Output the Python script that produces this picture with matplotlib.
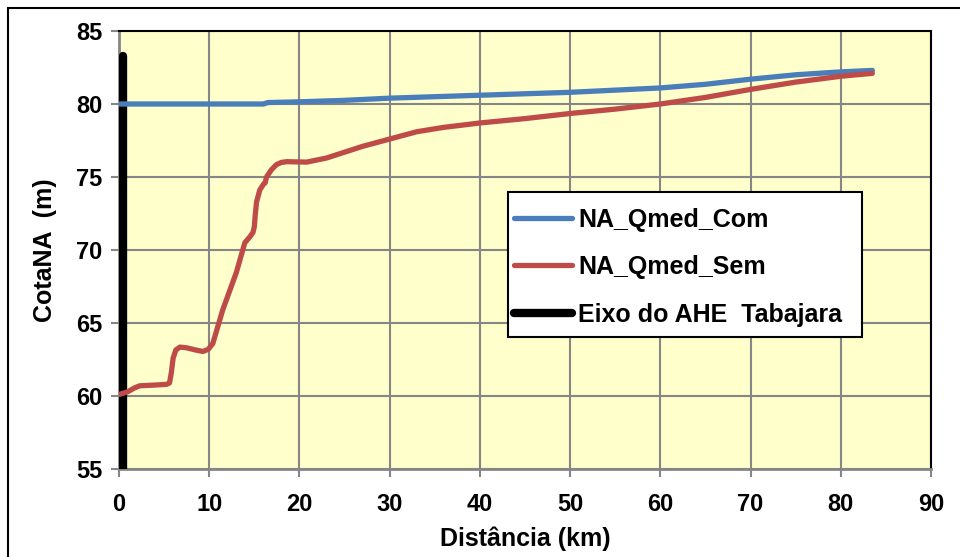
import matplotlib
matplotlib.use("Agg")
import matplotlib.pyplot as plt
from matplotlib.patches import Rectangle
from matplotlib.lines import Line2D

plt.rcParams['font.family'] = ['Liberation Sans', 'DejaVu Sans']
plt.rcParams['font.weight'] = 'bold'

# Water level profile, with reservoir (Com) and without (Sem)
dist_com = [0, 5, 10, 15.5, 16, 16.5, 20, 25, 30, 35, 40, 45, 50, 55, 60,
            65, 70, 75, 80, 83.5]
na_com = [80.0, 80.0, 80.0, 80.0, 80.0, 80.1, 80.15, 80.25, 80.4, 80.5, 80.6,
          80.7, 80.8, 80.95, 81.1, 81.35, 81.7, 82.0, 82.2, 82.3]

dist_sem = [0, 1, 1.7, 2.3, 4, 5.3, 5.6, 5.8, 6.0, 6.3, 6.75, 7.5, 8.5, 9.3,
            9.9, 10.4, 11.5, 13.0, 13.95, 14.5, 14.85, 15.0, 15.1, 15.25,
            15.6, 16.0, 16.2, 16.35, 16.9, 17.45, 18.0, 18.6, 20.8, 23, 25,
            27, 30, 33, 36, 40, 45, 50, 55, 60, 65, 70, 75, 80, 83.5]
na_sem = [60.1, 60.3, 60.55, 60.7, 60.75, 60.8, 60.9, 61.6, 62.6, 63.15,
          63.35, 63.3, 63.15, 63.05, 63.2, 63.6, 65.9, 68.45, 70.5, 70.9,
          71.2, 71.6, 72.4, 73.3, 74.1, 74.5, 74.6, 75.0, 75.5, 75.85, 76.0,
          76.05, 76.02, 76.3, 76.7, 77.1, 77.6, 78.1, 78.4, 78.7, 79.0, 79.35,
          79.65, 80.0, 80.45, 81.0, 81.5, 81.9, 82.1]

# Dam axis marker
eixo_x = [0.45, 0.45]
eixo_y = [55, 83.3]

x_ticks = [0, 10, 20, 30, 40, 50, 60, 70, 80, 90]
y_ticks = [55, 60, 65, 70, 75, 80, 85]

blue = '#4A7EBB'
red = '#BE4B48'
grid_gray = '#868686'

fig = plt.figure(figsize=(9.6, 5.57), dpi=100)
fig.patches.append(Rectangle((8 / 960, -0.1), 1.2, 1 - 8 / 557 + 0.1,
                             transform=fig.transFigure, fill=False,
                             edgecolor='black', linewidth=1.5))

ax = fig.add_axes([119 / 960, 1 - 469 / 557, 812 / 960, 438 / 557])
ax.set_facecolor('#FFFFCC')

ax.plot(eixo_x, eixo_y, color='black', lw=6, solid_capstyle='round', zorder=3)
ax.plot(dist_com, na_com, color=blue, lw=3.8, solid_capstyle='round',
        solid_joinstyle='round', zorder=4)
ax.plot(dist_sem, na_sem, color=red, lw=3.8, solid_capstyle='round',
        solid_joinstyle='round', zorder=4)

ax.set_xlim(0, 90)
ax.set_ylim(55, 85)
ax.set_xticks(x_ticks)
ax.set_yticks(y_ticks)
ax.grid(True, color=grid_gray, lw=1.5, zorder=0)
ax.set_axisbelow(True)

for side in ['left', 'bottom']:
    ax.spines[side].set_color(grid_gray)
    ax.spines[side].set_linewidth(2)
for side in ['top', 'right']:
    ax.spines[side].set_color('black')
    ax.spines[side].set_linewidth(1.5)

ax.tick_params(axis='both', colors=grid_gray, length=6, width=1.5,
               labelcolor='black', labelsize=17)
ax.tick_params(axis='x', pad=11)
ax.tick_params(axis='y', pad=6)
for lbl in ax.get_xticklabels() + ax.get_yticklabels():
    lbl.set_fontweight('bold')

ax.set_xlabel('Distância (km)', fontsize=18, fontweight='bold', labelpad=8)
ax.set_ylabel('CotaNA  (m)', fontsize=18, fontweight='bold', labelpad=14)

# Legend box
ax.add_patch(Rectangle((0.479, 0.301), 0.436, 0.331, transform=ax.transAxes,
                       facecolor='white', edgecolor='black', lw=1.5,
                       zorder=5))

handles = [
    Line2D([], [], color=blue, lw=3.8, solid_capstyle='round'),
    Line2D([], [], color=red, lw=3.8, solid_capstyle='round'),
    Line2D([], [], color='black', lw=6, solid_capstyle='round'),
]
labels = ['NA_Qmed_Com', 'NA_Qmed_Sem', 'Eixo do AHE  Tabajara']
leg = ax.legend(handles, labels, loc='upper left',
                bbox_to_anchor=(0.487, 0.597),
                prop={'weight': 'bold', 'size': 18},
                frameon=False, borderpad=0, labelspacing=0.94,
                handlelength=2.3, handletextpad=0.25, borderaxespad=0)
leg.set_zorder(6)

fig.savefig('out.png', dpi=100)
